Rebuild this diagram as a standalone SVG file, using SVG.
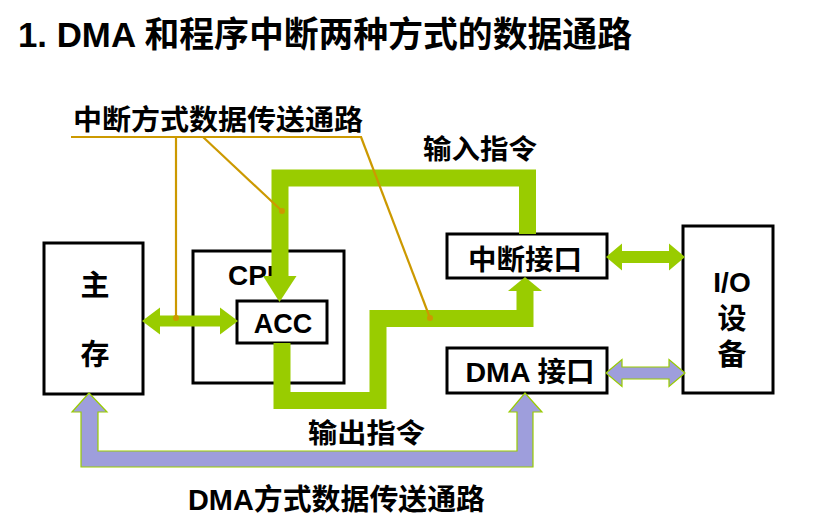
<svg xmlns="http://www.w3.org/2000/svg" width="837" height="527" viewBox="0 0 837 527">
  <style>
    text { font-family: "Liberation Sans", "Noto Sans CJK SC", sans-serif; font-weight: bold; fill: #000; }
    .box { fill: #fff; stroke: #000; stroke-width: 3; }
    .bus { fill: none; stroke: #99cc00; stroke-width: 17; stroke-linejoin: miter; }
    .ghead { fill: #99cc00; }
    .pbus { fill: #9e9edc; stroke: #99cc00; stroke-width: 1.2; stroke-linejoin: miter; }
    .lead { fill: none; stroke: #cc9900; stroke-width: 2.2; }
    .dot { fill: #cc9900; }
  </style>

  <!-- title -->
  <text x="18" y="47" font-size="35" textLength="614" lengthAdjust="spacingAndGlyphs">1. DMA 和程序中断两种方式的数据通路</text>

  <!-- nodes -->
  <g id="memory">
    <rect class="box" x="44" y="243" width="99" height="151"/>
    <text x="95" y="296" font-size="29" text-anchor="middle">主</text>
    <text x="95" y="365" font-size="29" text-anchor="middle">存</text>
  </g>
  <g id="cpu">
    <rect class="box" x="193" y="251" width="151" height="132"/>
    <text x="228" y="285" font-size="28">CPU</text>
  </g>
  <g id="acc">
    <rect class="box" x="237" y="301" width="90" height="42"/>
    <text x="283" y="333" font-size="27" text-anchor="middle">ACC</text>
  </g>
  <g id="int-iface">
    <rect class="box" x="447" y="234" width="160" height="44"/>
    <text x="525" y="270" font-size="28" text-anchor="middle" textLength="114" lengthAdjust="spacingAndGlyphs">中断接口</text>
  </g>
  <g id="dma-iface">
    <rect class="box" x="447" y="348" width="160" height="45"/>
    <text x="530" y="382" font-size="28" text-anchor="middle" textLength="129" lengthAdjust="spacingAndGlyphs">DMA 接口</text>
  </g>
  <g id="io">
    <rect class="box" x="683" y="226" width="90" height="167"/>
    <text x="732" y="292" font-size="28" text-anchor="middle">I/O</text>
    <text x="732" y="329" font-size="29" text-anchor="middle">设</text>
    <text x="732" y="365" font-size="29" text-anchor="middle">备</text>
  </g>

  <!-- connectors -->
  <g id="connectors">
    <!-- input instruction path: interrupt interface -> ACC -->
    <path class="bus" d="M527.5 234 V178 H280 V277"/>
    <polygon class="ghead" points="263,276 296.5,276 279.5,302"/>
    <!-- output instruction path: ACC -> interrupt interface -->
    <path class="bus" d="M282 343 V400.5 H378 V318.5 H525 V291"/>
    <polygon class="ghead" points="508,291 542,291 525,277"/>
    <!-- memory <-> ACC -->
    <polygon class="ghead" points="142,321 160,307.5 160,315.5 220,315.5 220,307.5 238,321 220,334.5 220,326.5 160,326.5 160,334.5"/>
    <!-- interrupt interface <-> I/O -->
    <polygon class="ghead" points="606,257 622,243.5 622,251 669,251 669,243.5 685,257 669,270.5 669,263 622,263 622,270.5"/>
    <!-- DMA interface <-> I/O -->
    <polygon class="pbus" points="606,373 622,359.5 622,367 669,367 669,359.5 685,373 669,386.5 669,379 622,379 622,386.5"/>
    <!-- DMA transfer path: DMA interface <-> memory -->
    <polygon class="pbus" points="89,393 107,412 98,412 98,451 517,451 517,412 509,412 525,393 542,412 533,412 533,467 81,467 81,412 72,412"/>
  </g>

  <!-- callouts for the interrupt data path -->
  <g id="callout">
    <text x="73" y="130" font-size="28" textLength="290" lengthAdjust="spacingAndGlyphs">中断方式数据传送通路</text>
    <path class="lead" d="M71 137 H362"/>
    <path class="lead" d="M176 137 V318"/>
    <path class="lead" d="M203 137 L282 211"/>
    <path class="lead" d="M361 137 L430 318"/>
    <circle class="dot" cx="176" cy="318" r="3"/>
    <circle class="dot" cx="282" cy="211" r="3"/>
    <circle class="dot" cx="430" cy="318" r="3"/>
  </g>

  <!-- path labels -->
  <text x="423" y="159" font-size="27" textLength="114" lengthAdjust="spacingAndGlyphs">输入指令</text>
  <text x="308" y="443" font-size="27" textLength="117" lengthAdjust="spacingAndGlyphs">输出指令</text>
  <text x="188" y="510" font-size="29" textLength="297" lengthAdjust="spacingAndGlyphs">DMA方式数据传送通路</text>
</svg>
